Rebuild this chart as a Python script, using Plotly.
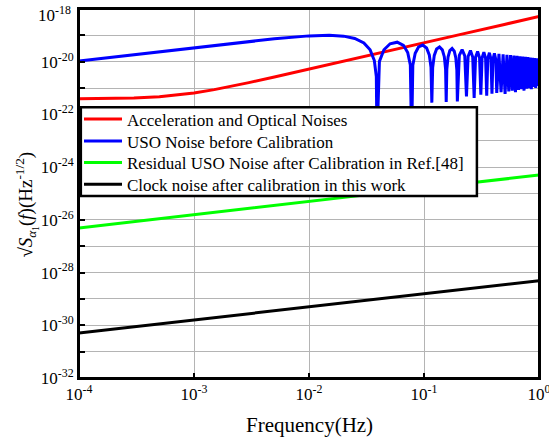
import plotly.graph_objects as go

# ---- data ----
red_f = [1e-4, 3e-4, 5e-4, 7e-4, 1e-3, 1.5e-3, 2e-3, 3e-3, 5e-3, 7e-3, 1e-2, 2e-2,
         5e-2, 0.1, 0.2, 0.5, 1.0]
red_v = [3.93e-22, 4.2e-22, 4.69e-22, 5.33e-22, 6.5e-22, 8.72e-22, 1.11e-21, 1.61e-21,
         2.63e-21, 3.66e-21, 5.21e-21, 1.04e-20, 2.6e-20, 5.2e-20, 1.04e-19, 2.6e-19, 5.2e-19]

blue_f = [
    1e-4, 2e-4, 5e-4, 1e-3, 2e-3, 5e-3, 0.01, 0.015, 0.02, 0.025, 0.03, 0.034, 0.037, 0.0385, 0.039,
    0.04095, 0.04485, 0.0507, 0.0585, 0.0663, 0.07215, 0.07605, 0.078,
    0.07995, 0.08385, 0.0897, 0.0975, 0.1053, 0.11115, 0.11505, 0.117,
    0.11895, 0.12285, 0.1287, 0.1365, 0.1443, 0.15015, 0.15405, 0.156,
    0.15795, 0.16185, 0.1677, 0.1755, 0.1833, 0.18915, 0.19305, 0.195,
    0.2028, 0.2145, 0.2262, 0.234,
    0.2418, 0.2535, 0.2652, 0.273,
    0.2808, 0.2925, 0.3042, 0.312,
    0.3198, 0.3315, 0.3432, 0.351,
    0.3588, 0.3705, 0.3822, 0.39,
    0.3978, 0.4095, 0.4212, 0.429,
    0.4485, 0.468, 0.4875, 0.507, 0.5265, 0.546, 0.5655, 0.585,
    0.6045, 0.624, 0.6435, 0.663, 0.6825, 0.702, 0.7215, 0.741,
    0.7605, 0.78, 0.7995, 0.819, 0.8385, 0.858, 0.8775, 0.897,
    0.9165, 0.936, 0.9555, 0.975, 1.0,
]
blue_v = [
    1.07e-20, 1.51e-20, 2.40e-20, 3.39e-20, 4.79e-20, 7.41e-20, 9.55e-20, 1.02e-19, 9.33e-20,
    7.59e-20, 5.13e-20, 2.82e-20, 1.11e-20, 2.75e-21, 1e-23,
    1.03e-20, 2.85e-20, 4.79e-20, 5.50e-20, 4.18e-20, 2.25e-20, 7.59e-21, 1e-23,
    7.41e-21, 2.09e-20, 3.63e-20, 4.27e-20, 3.31e-20, 1.82e-20, 6.17e-21, 2.8e-22,
    6.03e-21, 1.74e-20, 3.02e-20, 3.63e-20, 2.82e-20, 1.55e-20, 5.25e-21, 2.95e-22,
    5.25e-21, 1.51e-20, 2.63e-20, 3.16e-20, 2.51e-20, 1.38e-20, 4.79e-21, 3.1e-22,
    1.74e-20, 2.88e-20, 1.66e-20, 4.8e-22,
    1.58e-20, 2.64e-20, 1.51e-20, 4.2e-22,
    1.48e-20, 2.46e-20, 1.41e-20, 5.6e-22,
    1.38e-20, 2.31e-20, 1.35e-20, 5.1e-22,
    1.32e-20, 2.19e-20, 1.26e-20, 6.1e-22,
    1.23e-20, 2.08e-20, 1.20e-20, 6.5e-22,
    1.99e-20, 7.0e-22, 1.91e-20, 6.0e-22, 1.83e-20, 7.5e-22, 1.77e-20, 8.0e-22,
    1.71e-20, 7.0e-22, 1.66e-20, 8.5e-22, 1.61e-20, 9.0e-22, 1.57e-20, 8.0e-22,
    1.52e-20, 9.5e-22, 1.49e-20, 1.0e-21, 1.45e-20, 9.0e-22, 1.42e-20, 1.1e-21,
    1.39e-20, 1.0e-21, 1.36e-20, 1.2e-21, 1.20e-20,
]

green_f = [1e-4, 1e-3, 1e-2, 1e-1, 1.0]
green_v = [4.9e-27, 1.6e-26, 5.1e-26, 1.6e-25, 5.0e-25]

black_f = [1e-4, 1e-3, 1e-2, 1e-1, 1.0]
black_v = [5.1e-31, 1.6e-30, 5.0e-30, 1.58e-29, 4.9e-29]

names = ["Acceleration and Optical Noises",
         "USO Noise before Calibration",
         "Residual USO Noise after Calibration in Ref.[48]",
         "Clock noise after calibration in this work"]
colors = ["#ff0000", "#0000ff", "#00ff00", "#000000"]

x_ticks = [1e-4, 1e-3, 1e-2, 1e-1, 1.0]
x_labels = ["10<sup>-4</sup>", "10<sup>-3</sup>", "10<sup>-2</sup>", "10<sup>-1</sup>", "10<sup>0</sup>"]
y_major_exps = [-32, -30, -28, -26, -24, -22, -20]
y_minor_exps = [-31, -29, -27, -25, -23, -21, -19, -18]
y_ticks = [10.0 ** e for e in y_major_exps]
y_labels = ["10<sup>%d</sup>" % e for e in y_major_exps]
y_minor = [10.0 ** e for e in y_minor_exps]
y_top_label = "10<sup>-18</sup>"   # top label, nudged down inside the page as in the reference

x_title = "Frequency(Hz)"
y_title = "√<i>S</i><sub><i>α</i><sub>1</sub></sub>(<i>f</i>)(Hz<sup>-1/2</sup>)"

FONT = "Liberation Serif"

fig = go.Figure()
series = [(red_f, red_v, 3), (blue_f, blue_v, 3), (green_f, green_v, 3), (black_f, black_v, 3)]
legend_ids = ["legend", "legend2", "legend3", "legend4"]
for i, (fx, fy, w) in enumerate(series):
    fig.add_trace(go.Scatter(x=fx, y=fy, mode="lines", name=names[i],
                             line=dict(color=colors[i], width=w),
                             legend=legend_ids[i]))

# plot frame
fig.add_shape(type="rect", xref="paper", yref="paper", x0=0, x1=1, y0=0, y1=1,
              line=dict(color="black", width=2), fillcolor="rgba(0,0,0,0)", layer="above")

# legend frame (white box with black border), entries stacked inside it
fig.add_shape(type="rect", xref="paper", yref="paper",
              x0=0.004, x1=0.865, y0=0.493, y1=0.734,
              fillcolor="white", line=dict(color="black", width=2.5), layer="above")

row_y = [0.701, 0.641, 0.583, 0.524]
leg_common = dict(xanchor="left", yanchor="middle", bgcolor="rgba(0,0,0,0)",
                  borderwidth=0, font=dict(family=FONT, size=17, color="black"),
                  itemwidth=38)
legends = {}
for i, lid in enumerate(legend_ids):
    legends[lid] = dict(x=0.0, y=row_y[i], **leg_common)

# axis titles as annotations
fig.add_annotation(text=x_title, xref="paper", yref="paper", x=0.5, y=-0.127,
                   xanchor="center", yanchor="middle", showarrow=False,
                   font=dict(family=FONT, size=21, color="black"))
fig.add_annotation(text=y_title, xref="paper", yref="paper", x=-0.113, y=0.47,
                   xanchor="center", yanchor="middle", showarrow=False, textangle=-90,
                   font=dict(family=FONT, size=19, color="black"))
fig.add_annotation(text=y_top_label, xref="paper", yref="paper", x=-0.013, y=1.0,
                   xanchor="right", yanchor="middle", yshift=-5, showarrow=False,
                   font=dict(family=FONT, size=17, color="black"))

fig.update_layout(
    width=549, height=437,
    margin=dict(l=79, r=10, t=9, b=59, autoexpand=False),
    paper_bgcolor="white", plot_bgcolor="white",
    font=dict(family=FONT, color="black", size=16),
    showlegend=True,
    xaxis=dict(type="log", range=[-4, 0], tickvals=x_ticks, ticktext=x_labels,
               ticks="inside", ticklen=5, tickwidth=2, tickcolor="black",
               showgrid=True, gridcolor="#b4b4b4", gridwidth=1,
               showline=True, linecolor="black", linewidth=2, mirror=True,
               ticklabeloverflow="allow", automargin=False,
               tickfont=dict(family=FONT, size=17), zeroline=False),
    yaxis=dict(type="log", range=[-32, -18], tickvals=y_ticks, ticktext=y_labels,
               ticks="inside", ticklen=6, tickwidth=2, tickcolor="black",
               showgrid=True, gridcolor="#b4b4b4", gridwidth=1,
               showline=True, linecolor="black", linewidth=2, mirror=True,
               ticklabeloverflow="allow", automargin=False,
               tickfont=dict(family=FONT, size=17),
               minor=dict(tickmode="array", tickvals=y_minor, ticks="inside", ticklen=6,
                          tickwidth=2, tickcolor="black", showgrid=True,
                          gridcolor="#b4b4b4", gridwidth=1),
               zeroline=False),
    **legends,
)

fig.write_html(
    "out.html",
    config={"displayModeBar": False},
    post_script=("document.body.style.margin='0px';"
                 "document.body.style.overflow='hidden';"
                 "document.documentElement.style.overflow='hidden';"),
)
